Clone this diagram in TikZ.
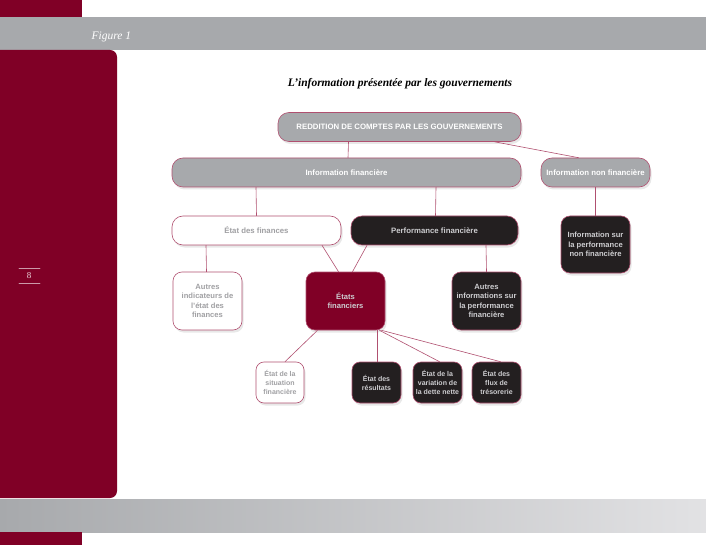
\documentclass[tikz,border=0pt]{standalone}
\usepackage{fontspec}
\setmainfont{Liberation Serif}
\setsansfont{Liberation Sans}
\usetikzlibrary{positioning,shadows}

\begin{document}
\begin{tikzpicture}[x=1pt, y=-1pt, line cap=round, line join=round]

	\definecolor{maroonA}{RGB}{128,0,38}
	\definecolor{grayA}{RGB}{167,169,172}
	\definecolor{grayL}{RGB}{226,226,228}
	\definecolor{darkA}{RGB}{35,31,32}
	\definecolor{lineM}{RGB}{176,80,112}
	\definecolor{txtL}{RGB}{205,205,208}
	\definecolor{txtG}{RGB}{160,160,163}

	\tikzset{
		shad/.style={drop shadow={opacity=0.18, shadow xshift=1.5pt, shadow yshift=-2.5pt}},
		pill/.style={rounded corners=11pt, draw=lineM, line width=0.6pt, inner sep=0pt,
			minimum height=29pt, font=\sffamily\bfseries\fontsize{7.8}{9}\selectfont, shad},
		pillG/.style={pill, fill=grayA, text=white},
		pillW/.style={pill, fill=white, text=txtG},
		pillD/.style={pill, fill=darkA, text=txtL},
		boxbase/.style={rounded corners=9pt, draw=lineM, line width=0.6pt, inner sep=0pt,
			align=center, font=\sffamily\bfseries\fontsize{7.6}{9.3}\selectfont, shad},
		bigW/.style={boxbase, fill=white, text=txtG, minimum width=69pt, minimum height=58pt},
		bigM/.style={boxbase, fill=maroonA, text=txtL, minimum width=79pt, minimum height=58pt},
		bigD/.style={boxbase, fill=darkA, text=txtL, minimum width=69pt, minimum height=58pt},
		smallW/.style={boxbase, rounded corners=8pt, fill=white, text=txtG, minimum width=48pt, minimum height=41pt,
			font=\sffamily\bfseries\fontsize{7}{9}\selectfont},
		smallD/.style={boxbase, rounded corners=8pt, fill=darkA, text=txtL, minimum width=49pt, minimum height=41pt,
			font=\sffamily\bfseries\fontsize{7}{9}\selectfont},
		link/.style={draw=lineM, line width=0.6pt},
	}

	\useasboundingbox (0,0) rectangle (706,545);
	\fill[white] (0,0) rectangle (706,545);

	% --- page frame
	\fill[maroonA] (0,0) rectangle (82,17);
	\fill[grayA] (0,17) rectangle (706,50);
	\node[font=\itshape\fontsize{11.5}{13}\selectfont, text=white, anchor=west] (fig) at (88,37) {Figure 1};
	\fill[maroonA, rounded corners=7pt] (-12,50) rectangle (117,498);
	\fill[maroonA] (0,50) rectangle (100,60);
	\shade[left color=grayA, right color=grayL] (0,499) rectangle (706,532);
	\fill[maroonA] (0,532) rectangle (82,545);

	% page number
	\node[font=\fontsize{9}{10}\selectfont, text=white!85!maroonA] (pg) at (29,276) {8};
	\draw[white!60!maroonA, line width=0.6pt] (19,268.5) -- (40,268.5);
	\draw[white!60!maroonA, line width=0.6pt] (19,283.5) -- (40,283.5);

	% --- title
	\node[font=\bfseries\itshape\fontsize{11.5}{13}\selectfont] (title) at (400,84) {L’information présentée par les gouvernements};

	% --- tree
	\node[pillG, minimum width=243pt] (rdc) at (399.5,127) {REDDITION DE COMPTES PAR LES GOUVERNEMENTS};
	\node[pillG, minimum width=349pt] (infof) at (346.5,172.5) {Information financière};
	\node[pillG, minimum width=109pt] (infonf) at (595.5,172.5) {Information non financière};

	\node[pillW, minimum width=169pt] (etat) at (256.5,230.5) {État des finances};
	\node[pillD, minimum width=167pt] (perf) at (434.5,230.5) {Performance financière};
	\node[bigD, minimum height=57pt] (perfnf) at (595.5,244.5) {Information sur\\la performance\\non financière};

	\node[bigW] (autind) at (207.5,301) {Autres\\indicateurs de\\l’état des\\finances};
	\node[bigM] (etfin) at (345.5,301) {États\\financiers};
	\node[bigD] (autinf) at (486.5,301) {Autres\\informations sur\\la performance\\financière};

	\node[smallW] (sitfin) at (280,382.5) {État de la\\situation\\financière};
	\node[smallD] (result) at (376.5,382.5) {État des\\résultats};
	\node[smallD] (dette) at (437.5,382.5) {État de la\\variation de\\la dette nette};
	\node[smallD] (flux) at (496.5,382.5) {État des\\flux de\\trésorerie};

	% --- links
	\draw[link] ([xshift=-51pt]rdc.south) -- ([xshift=1.5pt]infof.north);
	\draw[link] ([xshift=95pt]rdc.south) -- ([xshift=-17pt]infonf.north);
	\draw[link] ([xshift=-90.5pt]infof.south) -- (etat.north);
	\draw[link] ([xshift=89.5pt]infof.south) -- ([xshift=1pt]perf.north);
	\draw[link] (infonf.south) -- (perfnf.north);
	\draw[link] ([xshift=-50.5pt]etat.south) -- ([xshift=-1pt]autind.north);
	\draw[link] ([xshift=65.5pt]etat.south) -- ([xshift=-7pt]etfin.north);
	\draw[link] ([xshift=-67.5pt]perf.south) -- ([xshift=7pt]etfin.north);
	\draw[link] ([xshift=51.5pt]perf.south) -- (autinf.north);
	\draw[link] ([xshift=-28pt]etfin.south) -- ([xshift=5pt]sitfin.north);
	\draw[link] ([xshift=31.5pt]etfin.south) -- ([xshift=0.5pt]result.north);
	\draw[link] ([xshift=34pt]etfin.south) -- ([xshift=2pt]dette.north);
	\draw[link] ([xshift=36pt]etfin.south) -- ([xshift=4pt]flux.north);

\end{tikzpicture}
\end{document}
